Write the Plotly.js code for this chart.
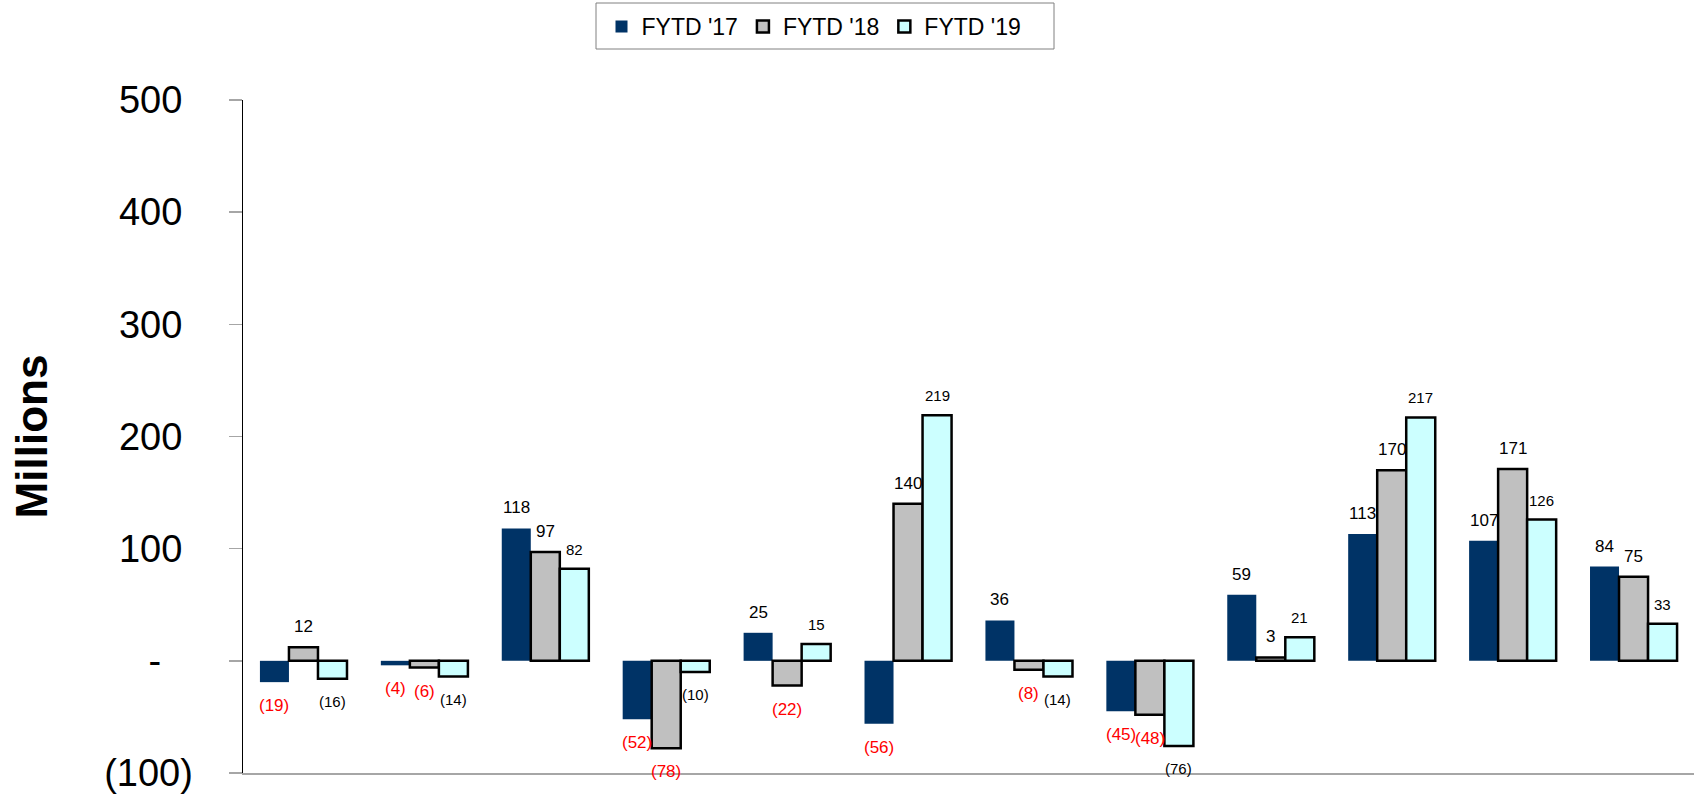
<!DOCTYPE html>
<html>
<head>
<meta charset="utf-8">
<script src="https://cdn.plot.ly/plotly-3.0.1.min.js"></script>
<style>
  html, body { margin: 0; padding: 0; background: #ffffff; }
  #chart { width: 1694px; height: 799px; }
</style>
</head>
<body>
<div id="chart"></div>
<script>
// ---- data ----
const categories = ['G1', 'G2', 'G3', 'G4', 'G5', 'G6', 'G7', 'G8', 'G9', 'G10', 'G11', 'G12'];
const seriesNames = ["FYTD '17", "FYTD '18", "FYTD '19"];
const fytd17 = [-19, -4, 118, -52, 25, -56, 36, -45, 59, 113, 107, 84];
const fytd18 = [12, -6, 97, -78, -22, 140, -8, -48, 3, 170, 171, 75];
const fytd19 = [-16, -14, 82, -10, 15, 219, -14, -76, 21, 217, 126, 33];
const tickValues = [-100, 0, 100, 200, 300, 400, 500];
const tickLabels = ['(100)', '-', '100', '200', '300', '400', '500'];

// ---- styling ----
const W = 1694, H = 799;
const margin = { l: 243, r: 0, t: 100, b: 26 };
const plotH = H - margin.t - margin.b;
const bargap = 0.28;
const fills = ['#003366', '#C0C0C0', '#CCFFFF'];
const lines = [{ color: '#003366', width: 0 }, { color: '#000000', width: 2.5 }, { color: '#000000', width: 2.5 }];
const labelSizes = [17, 17, 15];
const negColors = ['#FF0000', '#FF0000', '#000000'];
const FONT = 'Liberation Sans, Arial, sans-serif';

const allSeries = [fytd17, fytd18, fytd19];
const fmt = v => v < 0 ? '(' + Math.abs(v) + ')' : String(v);

const traces = allSeries.map((vals, k) => ({
  type: 'bar',
  name: seriesNames[k],
  x: categories,
  y: vals,
  marker: { color: fills[k], line: lines[k] },
  hoverinfo: 'x+y+name'
}));

// data labels via annotations, offset from bar ends
const plotW = W - margin.l - margin.r;
const catW = plotW / categories.length;
const barPx = catW * (1 - bargap) / allSeries.length;
const annotations = [];
allSeries.forEach((vals, k) => {
  vals.forEach((v, i) => {
    const neg = v < 0;
    annotations.push({
      x: categories[i], xref: 'x',
      y: v, yref: 'y',
      xshift: (k - 1) * barPx,
      yshift: neg ? -12 : 9,
      yanchor: neg ? 'top' : 'bottom',
      xanchor: 'center',
      showarrow: false,
      text: fmt(v),
      font: { family: FONT, size: labelSizes[k], color: neg ? negColors[k] : '#000000' }
    });
  });
});

// centre-ish alignment of tick labels like the original
const nb = '\u00a0';
const tickText = tickLabels.map(t => t === '-' ? t + nb + nb + nb : (t.startsWith('(') ? t : t + nb));

// legend frame (pixel box converted to paper coords)
const px2x = px => (px - margin.l) / plotW;
const py2y = py => (H - margin.b - py) / plotH;

const layout = {
  width: W, height: H,
  margin: margin,
  paper_bgcolor: '#ffffff',
  plot_bgcolor: '#ffffff',
  barmode: 'group',
  bargap: bargap,
  bargroupgap: 0,
  font: { family: FONT, color: '#000000' },
  showlegend: true,
  legend: {
    orientation: 'h',
    xref: 'container', yref: 'container',
    x: 814 / W, xanchor: 'center',
    y: 1 - 5 / H, yanchor: 'top',
    borderwidth: 0,
    bgcolor: 'rgba(0,0,0,0)',
    font: { family: FONT, size: 23, color: '#000000' },
    traceorder: 'normal'
  },
  shapes: [{
    type: 'rect', xref: 'paper', yref: 'paper',
    x0: px2x(596), x1: px2x(1054), y0: py2y(49), y1: py2y(3),
    line: { color: '#808080', width: 1 }, fillcolor: 'rgba(0,0,0,0)', layer: 'above'
  }],
  xaxis: {
    type: 'category',
    showticklabels: false,
    ticks: '',
    showgrid: false,
    zeroline: false,
    showline: true,
    linecolor: '#a6a6a6',
    linewidth: 1.5,
    fixedrange: true
  },
  yaxis: {
    range: [-100, 500],
    tickmode: 'array',
    tickvals: tickValues,
    ticktext: tickText,
    ticks: 'outside',
    ticklen: 13,
    tickcolor: '#a6a6a6',
    tickwidth: 1.5,
    ticklabelstandoff: 28,
    tickfont: { family: FONT, size: 38, color: '#000000' },
    showgrid: false,
    zeroline: false,
    showline: true,
    linecolor: '#000000',
    linewidth: 1.5,
    title: { text: '<b>Millions</b>', font: { family: FONT, size: 44, color: '#000000' }, standoff: 43 },
    automargin: false,
    fixedrange: true
  },
  annotations: annotations
};

Plotly.newPlot('chart', traces, layout, { displayModeBar: false, staticPlot: true });
</script>
</body>
</html>
